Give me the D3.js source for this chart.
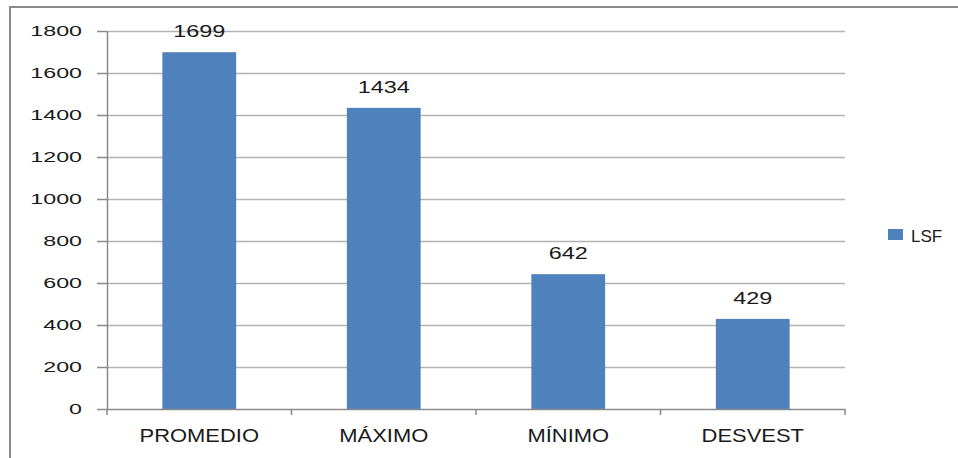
<!DOCTYPE html>
<html><head><meta charset="utf-8">
<script src="https://cdn.jsdelivr.net/npm/d3@7"></script>
<style>
html,body{margin:0;padding:0;background:#fff;overflow:hidden}
text{font-family:"Liberation Sans",Arial,sans-serif;fill:#1a1a1a}
</style></head>
<body><svg id="c" width="958" height="458"></svg>
<script>
const categories = ["PROMEDIO","MÁXIMO","MÍNIMO","DESVEST"];
const values = [1699,1434,642,429];
const seriesName = "LSF";
const yTicks = [0,200,400,600,800,1000,1200,1400,1600,1800];

const svg = d3.select("#c");
const W = 958, H = 458;
const m = {left:107, right:113, top:31, bottom:49};
const color = "#4f81bd";

svg.append("rect").attr("x",10).attr("y",7).attr("width",W+20).attr("height",H+20)
  .attr("fill","#fff").attr("stroke","#8a8a8a").attr("stroke-width",2);

const x = d3.scaleBand().domain(categories).range([m.left, W-m.right]).paddingInner(0.6).paddingOuter(0.3);
const y = d3.scaleLinear().domain([0,1800]).range([H-m.bottom, m.top]);

// gridlines
svg.append("g").selectAll("line").data(yTicks.filter(d=>d>0)).join("line")
  .attr("x1",m.left).attr("x2",W-m.right)
  .attr("y1",d=>Math.round(y(d))+0.5).attr("y2",d=>Math.round(y(d))+0.5)
  .attr("stroke","#b3b3b3").attr("stroke-width",1.5);

// y axis
const ya = svg.append("g").attr("transform",`translate(${m.left},0)`)
  .call(d3.axisLeft(y).tickValues(yTicks).tickFormat(d3.format("d")).tickSize(10).tickPadding(15).tickSizeOuter(0));
ya.select(".domain").attr("stroke","#8a8a8a").attr("stroke-width",1.5);
ya.selectAll(".tick line").attr("stroke","#8a8a8a").attr("stroke-width",1.5);
ya.selectAll(".tick text").attr("font-size",15.5).attr("fill","#1a1a1a")
  .attr("font-family","Liberation Sans, Arial, sans-serif")
  .each(function(){
    const t=d3.select(this); const xx=+t.attr("x");
    t.attr("x",null).attr("transform",`translate(${xx},0) scale(1.5,1)`);
  });

// bars
svg.append("g").selectAll("rect").data(values).join("rect")
  .attr("x",(d,i)=>x(categories[i])).attr("width",x.bandwidth())
  .attr("y",d=>y(d)).attr("height",d=>y(0)-y(d))
  .attr("fill",color);

// x axis
const xa = svg.append("g").attr("transform",`translate(0,${y(0)})`)
  .call(d3.axisBottom(x).tickSize(0).tickPadding(0));
xa.select(".domain").attr("stroke","#8a8a8a").attr("stroke-width",1.5);
xa.selectAll(".tick text").remove();
// boundary ticks
const bounds = [0,1,2,3,4].map(i=> m.left + i*x.step());
xa.append("g").selectAll("line").data(bounds).join("line")
  .attr("x1",d=>d).attr("x2",d=>d).attr("y1",0).attr("y2",6)
  .attr("stroke","#8a8a8a").attr("stroke-width",1.5);
// category labels
svg.append("g").selectAll("text").data(categories).join("text")
  .attr("transform",d=>`translate(${x(d)+x.bandwidth()/2},${y(0)+33}) scale(1.22,1)`)
  .attr("text-anchor","middle").attr("font-size",18).text(d=>d);

// data labels
svg.append("g").selectAll("text").data(values).join("text")
  .attr("transform",(d,i)=>`translate(${x(categories[i])+x.bandwidth()/2},${y(d)-15}) scale(1.42,1)`)
  .attr("text-anchor","middle").attr("font-size",16.5).text(d=>d);

// legend
const lg = svg.append("g").attr("transform","translate(888,229)");
lg.append("rect").attr("width",15).attr("height",11).attr("fill",color);
lg.append("text").attr("x",23).attr("y",13).attr("font-size",17).text(seriesName);
</script></body></html>
